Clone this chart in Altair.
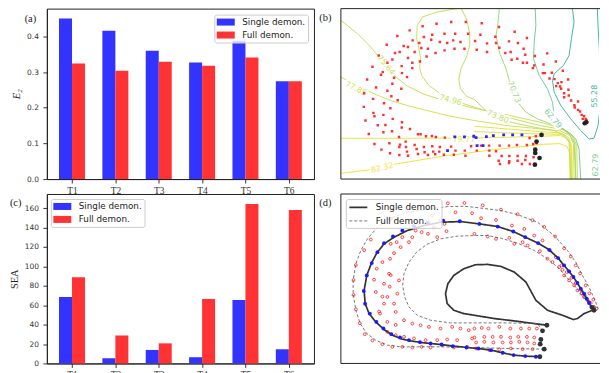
import altair as alt
import pandas as pd

# ---------------- bar panels (a) and (c) ----------------
tasks = ["T1", "T2", "T3", "T4", "T5", "T6"]
series = ["Single demon.", "Full demon."]
e2_single = [0.450, 0.416, 0.360, 0.327, 0.388, 0.274]
e2_full = [0.324, 0.304, 0.329, 0.318, 0.341, 0.274]
sea_single = [68.5, 5.4, 13.9, 6.4, 65.4, 14.6]
sea_full = [88.8, 28.8, 20.7, 66.4, 164.4, 158.0]
bar_colors = ["#3333ff", "#ff3333"]
panel_labels = ["(a)", "(b)", "(c)", "(d)"]

# ---------------- panel (b): contour levels and samples (panel units) ----------------
contour_names = ["82.32", "79.77", "81a", "81b", "77.85", "75.64", "74.96", "73.80", "70.73", "62.79", "55.28", "62.79b"]
contour_colors = ["#f2e33c", "#eae544", "#e6e444", "#dde34a", "#d6e150", "#cde05a", "#c8df5e",
                  "#bedd66", "#a6d879", "#79cc95", "#45b7a0", "#79cc95"]
contour_pts = {
    "82.32": [(2, 493), (95, 481), (160, 466), (310, 441), (470, 421), (610, 406), (660, 404), (680, 412), (688, 430), (690, 511)],
    "79.77": [(0, 388), (200, 388), (400, 387), (500, 385), (600, 382), (660, 380), (682, 388), (690, 405), (692, 511)],
    "81a": [(402, 352), (500, 360), (600, 368), (662, 372), (685, 385), (695, 410), (697, 511)],
    "81b": [(402, 368), (500, 372), (600, 375), (665, 376), (688, 395), (694, 420), (694, 511)],
    "77.85": [(0, 205), (50, 230), (100, 255), (150, 275), (200, 290), (260, 305), (320, 320), (402, 335), (500, 350), (600, 360), (660, 366), (690, 380), (700, 405), (702, 511)],
    "75.64": [(0, 35), (50, 75), (90, 115), (110, 140), (160, 200), (200, 232), (250, 256), (300, 272), (360, 288), (402, 298), (500, 318), (600, 340), (665, 358), (695, 378), (705, 405), (707, 511)],
    "74.96": [(350, 0), (290, 10), (245, 25), (230, 50), (228, 90), (235, 120), (240, 150), (237, 175), (243, 200), (265, 230), (300, 255), (350, 278), (402, 295), (500, 325), (600, 350), (668, 362), (700, 385), (710, 410), (712, 511)],
    "73.80": [(362, 0), (378, 30), (388, 75), (388, 110), (378, 145), (362, 178), (355, 210), (360, 240), (378, 262), (402, 272), (442, 310), (472, 325), (512, 340), (582, 355), (642, 365), (672, 380), (687, 400), (692, 511)],
    "70.73": [(477, 0), (472, 50), (467, 80), (477, 130), (497, 180), (507, 215), (517, 240), (532, 280), (557, 310), (592, 330), (632, 345), (662, 355), (687, 375), (702, 400), (707, 511)],
    "62.79": [(585, 0), (587, 50), (582, 100), (580, 150), (597, 200), (622, 240), (637, 280), (642, 320), (662, 355), (692, 375), (707, 390), (717, 420), (722, 511)],
    "55.28": [(697, 0), (702, 40), (694, 90), (687, 140), (670, 170), (642, 195), (637, 215), (642, 250), (662, 290), (692, 330), (722, 365), (747, 390), (762, 388), (774, 350), (780, 300), (782, 250), (780, 200), (778, 120), (774, 50), (772, 0)],
    "62.79b": [(807, 320), (794, 335), (787, 370), (787, 400), (790, 440), (797, 511)],
}
clabel_text = ["77.85", "75.64", "74.96", "73.80", "70.73", "62.79", "55.28", "82.32", "79.77", "62.79"]
clabel_x = [45, 135, 330, 472, 520, 637, 765, 125, 370, 768]
clabel_y = [240, 170, 275, 325, 250, 330, 262, 478, 392, 468]
clabel_angle = [27, 50, 15, 22, 68, 50, 270, 347, 0, 270]
clabel_color = ["#d6e150", "#cde05a", "#c8df5e", "#bedd66", "#a6d879", "#79cc95", "#45b7a0", "#f2e33c", "#eae544", "#79cc95"]

b_red = [
    (288, 45), (332, 40), (376, 40), (246, 53), (207, 65), (275, 78), (312, 75), (344, 75), (383, 75), (170, 82),
    (250, 85), (216, 95), (236, 103), (272, 93), (298, 100), (320, 103), (338, 95), (360, 100), (189, 112), (138, 108),
    (163, 133), (177, 130), (202, 115), (222, 130), (242, 118), (262, 120), (285, 133), (312, 125), (342, 120), (372, 120),
    (258, 143), (238, 158), (114, 140), (155, 152), (202, 148), (215, 162), (95, 174), (183, 172), (140, 162), (215, 178),
    (121, 198), (126, 190), (184, 193), (199, 205), (160, 207), (79, 212), (155, 225), (182, 240), (106, 236), (140, 246),
    (70, 253), (171, 274), (152, 262), (97, 270), (130, 283), (69, 294), (149, 298), (98, 312), (101, 322), (128, 318),
    (74, 335), (156, 330), (184, 340), (111, 349), (183, 356), (134, 348), (208, 360), (84, 375), (128, 370), (154, 367),
    (175, 384), (232, 376), (240, 376), (256, 382), (274, 381), (286, 384), (313, 386), (101, 405), (146, 403), (195, 398),
    (178, 407), (222, 408), (122, 422), (148, 433), (176, 414), (196, 414), (199, 428), (228, 420), (250, 414), (275, 412),
    (252, 430), (278, 428), (296, 428), (298, 414), (332, 413), (345, 425), (373, 425), (176, 438), (202, 440), (232, 435),
    (262, 438), (284, 436), (310, 437), (340, 437), (375, 440), (392, 412),
    (424, 44), (476, 55), (523, 69), (465, 84), (420, 78), (560, 88), (404, 97), (440, 104), (467, 103), (506, 98),
    (533, 103), (477, 117), (495, 133), (409, 123), (440, 130), (511, 130), (550, 120), (531, 150), (555, 138), (514, 153),
    (584, 142), (548, 162), (560, 162), (582, 170), (578, 178), (621, 134), (647, 158), (668, 186), (610, 167), (608, 193),
    (614, 193), (635, 192), (628, 209), (643, 211), (653, 223), (664, 220), (684, 212), (648, 232), (660, 233), (663, 240),
    (672, 253), (685, 243), (672, 265), (686, 260), (693, 275), (703, 289), (714, 278), (704, 296), (714, 303), (720, 308),
    (725, 318), (732, 322), (737, 330), (740, 335), (728, 330), (742, 340),
    (422, 410), (446, 410), (478, 410), (506, 410), (530, 408), (560, 408), (579, 405), (409, 425), (447, 425), (467, 427),
    (484, 441), (507, 441), (532, 441), (557, 441), (447, 440), (475, 455), (507, 457), (532, 455), (555, 453), (479, 465),
    (506, 462), (545, 465), (569, 465), (580, 445), (589, 403), (568, 387), (587, 382),
]
b_blue = [(343, 384), (372, 384), (400, 382), (321, 425), (407, 386), (438, 383), (459, 380), (490, 378), (517, 378),
          (545, 378), (410, 410), (428, 410)]
b_black = [(604, 378), (589, 398), (585, 422), (585, 432), (598, 447), (584, 467), (734, 343), (738, 340)]

# ---------------- panel (d): trajectories (panel units) ----------------
d_single_main = [
    (599, 490), (555, 488), (520, 485), (487, 478), (452, 470), (414, 465), (380, 462), (340, 458), (300, 453), (250, 448),
    (215, 443), (185, 437), (155, 425), (130, 408), (105, 385), (85, 360), (73, 330), (70, 290), (78, 245), (92, 208),
    (108, 178), (130, 150), (160, 130), (200, 110), (250, 95), (300, 85), (360, 83), (417, 90), (472, 98), (519, 113),
    (555, 130), (594, 148), (627, 168), (654, 193), (672, 215), (687, 233), (700, 250), (712, 268), (722, 285), (732, 300),
    (740, 315), (747, 328), (754, 340), (762, 350),
]
d_single_loop = [
    (620, 395), (582, 390), (522, 382), (462, 375), (402, 365), (370, 360), (340, 350), (320, 330), (315, 300), (322, 270),
    (340, 245), (370, 225), (405, 213), (442, 212), (482, 218), (522, 235), (557, 265), (587, 320), (622, 350), (667, 365),
    (700, 378), (712, 375), (732, 360), (757, 350),
]
d_full_outer = [
    (612, 467), (500, 465), (405, 462), (360, 462), (300, 460), (240, 460), (180, 460), (140, 455), (105, 440), (78, 420),
    (58, 390), (45, 350), (37, 300), (37, 260), (45, 210), (60, 170), (80, 135), (110, 100), (150, 72), (200, 55),
    (270, 45), (320, 38), (370, 37), (402, 40), (482, 50), (532, 62), (592, 85), (642, 125), (682, 170), (707, 205),
    (727, 245), (747, 280), (767, 325), (774, 345),
]
d_full_inner = [
    (607, 412), (592, 390), (502, 388), (402, 388), (330, 388), (270, 380), (230, 365), (205, 340), (192, 310), (186, 275),
    (190, 240), (205, 205), (228, 175), (258, 152), (300, 135), (350, 127), (405, 125), (442, 125), (482, 133), (532, 148),
    (582, 170), (622, 195), (652, 220), (677, 248), (702, 275), (722, 300), (742, 325), (757, 340),
]
d_blue = [
    (69, 292), (73, 330), (87, 360), (107, 385), (128, 405), (152, 422), (178, 432), (205, 440), (238, 446), (270, 450),
    (303, 453), (337, 458), (378, 462), (78, 245), (93, 208), (110, 175), (130, 148), (157, 128), (185, 110), (220, 97),
    (262, 87), (308, 80), (358, 82), (417, 90), (472, 98), (519, 113), (555, 130), (594, 148), (627, 168), (654, 193),
    (672, 215), (687, 233), (700, 250), (712, 268), (722, 285), (732, 300), (740, 315), (747, 328), (754, 340),
    (414, 465), (452, 470), (487, 478), (520, 485), (555, 488), (587, 490),
]
d_black = [(620, 395), (607, 412), (602, 438), (600, 452), (612, 467), (599, 490), (762, 350), (757, 342)]
d_red = [
    (90, 137), (70, 169), (45, 214), (38, 259), (38, 304), (45, 347), (57, 389), (72, 422), (95, 441), (125, 452),
    (372, 27), (322, 28), (427, 34), (482, 47), (532, 61), (577, 79), (612, 99), (645, 128), (672, 164), (692, 188),
    (707, 215), (720, 239), (737, 275), (748, 299), (760, 318),
    (422, 73), (467, 78), (515, 95), (552, 105), (582, 125), (607, 140), (630, 170), (647, 190), (664, 215), (680, 235),
    (694, 252), (707, 268), (724, 290), (734, 305), (742, 318), (752, 328), (762, 340), (770, 345),
    (275, 65), (300, 78), (312, 90), (243, 115), (262, 120), (280, 100), (290, 130), (318, 112), (225, 110), (215, 130),
    (205, 145), (168, 145), (180, 160), (160, 178), (148, 195), (125, 205), (108, 225), (100, 258), (105, 295), (118, 360),
    (140, 385), (140, 310), (130, 330), (165, 355), (130, 270), (145, 240), (150, 75), (345, 55), (395, 58),
    (150, 244), (147, 279), (125, 309), (115, 354), (165, 394), (170, 300), (175, 260), (160, 330), (150, 150), (185, 130),
    (402, 120), (442, 128), (467, 135), (507, 132), (522, 150), (547, 145), (562, 155), (599, 172), (622, 195), (637, 205),
    (657, 220), (667, 228), (672, 245), (687, 260), (702, 275), (712, 290), (724, 300), (732, 310), (747, 325),
    (190, 380), (215, 390), (240, 395), (265, 400), (300, 405), (335, 400), (360, 405), (385, 410), (140, 415), (165, 425),
    (190, 430), (220, 435), (255, 440), (290, 440), (320, 438), (350, 440), (395, 435), (155, 460), (185, 460), (215, 462),
    (243, 460), (270, 462), (305, 455), (340, 462), (380, 460),
    (402, 405), (424, 403), (444, 405), (477, 400), (510, 405), (542, 405), (567, 405), (590, 405),
    (402, 432), (432, 430), (457, 430), (482, 430), (510, 432), (534, 430), (560, 430), (582, 432),
    (407, 447), (432, 445), (459, 447), (487, 447), (512, 447), (537, 445), (562, 447), (582, 450),
    (407, 465), (447, 470), (477, 468), (512, 465), (547, 467), (577, 467),
]

# ---------------- layout constants ----------------
W, WB, H1, H2 = 268, 259, 171, 170
XMAX_B = 777  # panel units visible in the (narrower) right-hand panels, 3 units per pixel
SANS = "DejaVu Sans"
SERIF = "Liberation Serif"
INK = "#222222"
PATCH = "M-1.64,-0.64H1.64V0.64H-1.64Z"   # wide legend patch (about 18 x 7 px at size 121)
DASHLINE = "M-1.64,0H1.64"                 # legend line sample (about 18 px at size 121)


def panel_text(label, lx, ly):
    return alt.Chart(pd.DataFrame({"t": [label]})).mark_text(
        font=SERIF, fontSize=10.5, align="center", baseline="middle", color=INK
    ).encode(x=alt.value(lx), y=alt.value(ly), text="t:N")


def legend_box(lx, ly, symbol):
    return alt.Legend(
        title=None, orient="none", legendX=lx, legendY=ly, symbolType=symbol, symbolSize=121,
        symbolOffset=4, labelOffset=11, symbolStrokeWidth=0 if symbol == PATCH else 1,
        labelFont=SANS, labelFontSize=8.8, labelColor=INK, fillColor="rgba(255,255,255,0.8)",
        strokeColor="#cccccc", padding=2, cornerRadius=2, rowPadding=2,
    )


def bar_panel(single, full, ytitle, ymax, yticks, yfmt, label, lab_xy, leg_xy, height, tstyle):
    rows = []
    for i, t in enumerate(tasks):
        rows.append(dict(lo=i - 0.3, hi=i, series=series[0], value=single[i], base=0))
        rows.append(dict(lo=i, hi=i + 0.3, series=series[1], value=full[i], base=0))
    df = pd.DataFrame(rows)
    label_expr = "[" + ",".join("'%s'" % t for t in tasks) + "][datum.value]"
    bars = alt.Chart(df).mark_bar().encode(
        x=alt.X("lo:Q", scale=alt.Scale(domain=[-0.58, 5.58], nice=False, zero=False),
                axis=alt.Axis(values=list(range(len(tasks))), labelExpr=label_expr, title=None, grid=False,
                              labelFont=SERIF, labelFontSize=9.5, labelPadding=2)),
        x2="hi:Q",
        y=alt.Y("value:Q", scale=alt.Scale(domain=[0, ymax], nice=False),
                axis=alt.Axis(values=yticks, format=yfmt, grid=False, title=ytitle, titleFont=SERIF,
                              titleFontSize=10.5, titleFontWeight="normal", titleFontStyle=tstyle,
                              titleColor=INK, titlePadding=5, labelPadding=4.5)),
        y2="base:Q",
        color=alt.Color("series:N", scale=alt.Scale(domain=series, range=bar_colors),
                        legend=legend_box(leg_xy[0], leg_xy[1], PATCH)),
    )
    return alt.layer(bars, panel_text(label, lab_xy[0], lab_xy[1])).properties(width=W, height=height)


pa = bar_panel(e2_single, e2_full, "E\u2082", 0.478, [0, 0.1, 0.2, 0.3, 0.4], ".1f", panel_labels[0],
               (-16.5, 10), (168, 6), H1, "italic")
pc = bar_panel(sea_single, sea_full, "SEA", 174.6, list(range(0, 161, 20)), "d", panel_labels[2],
               (-31.3, 9.5), (4, 5), H2, "normal")

xs = alt.Scale(domain=[0, XMAX_B], nice=False, zero=False)
ys = alt.Scale(domain=[0, 510], nice=False, zero=False, reverse=True)


def pts_df(pts):
    return pd.DataFrame({"x": [p[0] for p in pts], "y": [p[1] for p in pts]})


def enc_xy():
    return dict(x=alt.X("x:Q", scale=xs, axis=None), y=alt.Y("y:Q", scale=ys, axis=None))


def frame(h):
    one = pd.DataFrame({"k": [0]})
    left = alt.Chart(one).mark_rule(color=INK, strokeWidth=1).encode(
        x=alt.value(0), y=alt.value(0), y2=alt.value(h))
    top = alt.Chart(one).mark_rule(color=INK, strokeWidth=1).encode(
        x=alt.value(0), x2=alt.value(WB + 1), y=alt.value(0))
    bottom = alt.Chart(one).mark_rule(color=INK, strokeWidth=1).encode(
        x=alt.value(0), x2=alt.value(WB + 1), y=alt.value(h))
    return [left, top, bottom]


# ---- panel (b)
crow = []
for name in contour_names:
    for i, (x, y) in enumerate(contour_pts[name]):
        crow.append(dict(c=name, i=i, x=x, y=y))
cdf = pd.DataFrame(crow)
contours = alt.Chart(cdf).mark_line(strokeWidth=1, clip=True).encode(
    **enc_xy(), detail="c:N", order=alt.Order("i:Q"),
    color=alt.Color("c:N", scale=alt.Scale(domain=contour_names, range=contour_colors), legend=None),
)
ldf = pd.DataFrame({"t": clabel_text, "x": clabel_x, "y": clabel_y, "a": clabel_angle, "col": clabel_color})
lab_halo = alt.Chart(ldf).mark_text(font=SANS, fontSize=8, stroke="white", strokeWidth=4, clip=True).encode(
    **enc_xy(), text="t:N", angle=alt.Angle("a:Q", scale=None))
lab_txt = alt.Chart(ldf).mark_text(font=SANS, fontSize=8, clip=True).encode(
    **enc_xy(), text="t:N", angle=alt.Angle("a:Q", scale=None), color=alt.Color("col:N", scale=None))
b_r = alt.Chart(pts_df(b_red)).mark_square(size=6, color="#ff1a1a", opacity=0.9, clip=True).encode(**enc_xy())
b_b = alt.Chart(pts_df(b_blue)).mark_square(size=8, color="#1a1aff", opacity=0.95, clip=True).encode(**enc_xy())
b_k = alt.Chart(pts_df(b_black)).mark_circle(size=22, color="#222222", opacity=1, clip=True).encode(**enc_xy())
pb = alt.layer(contours, lab_halo, lab_txt, b_r, b_b, b_k, *frame(H1),
               panel_text(panel_labels[1], -15.5, 9.5)).properties(
    width=WB, height=H1, view={"stroke": "transparent"})

# ---- panel (d)
lrow = []
for seg, ser, pts in [("m", series[0], d_single_main), ("l", series[0], d_single_loop),
                      ("o", series[1], d_full_outer), ("n", series[1], d_full_inner)]:
    for i, (x, y) in enumerate(pts):
        lrow.append(dict(seg=seg, series=ser, i=i, x=x, y=y))
ldf2 = pd.DataFrame(lrow)
leg_d = legend_box(5, 5, DASHLINE)
lines = alt.Chart(ldf2).mark_line(clip=True).encode(
    **enc_xy(), detail="seg:N", order=alt.Order("i:Q"),
    color=alt.Color("series:N", scale=alt.Scale(domain=series, range=["#333333", "#555555"]), legend=leg_d),
    strokeDash=alt.StrokeDash("series:N", scale=alt.Scale(domain=series, range=[[1, 0], [3, 2]]), legend=leg_d),
    strokeWidth=alt.StrokeWidth("series:N", scale=alt.Scale(domain=series, range=[1.7, 0.8]), legend=leg_d),
)
d_r = alt.Chart(pts_df(d_red)).mark_point(shape="circle", size=8, filled=False, color="#ff2020", strokeWidth=1,
                                           opacity=0.85, clip=True).encode(**enc_xy())
d_b = alt.Chart(pts_df(d_blue)).mark_circle(size=15, color="#1a1aff", opacity=1, clip=True).encode(**enc_xy())
d_k = alt.Chart(pts_df(d_black)).mark_circle(size=24, color="#333333", opacity=1, clip=True).encode(**enc_xy())
pd_ = alt.layer(d_r, lines, d_b, d_k, *frame(H2), panel_text(panel_labels[3], -15.5, 9.5)).properties(
    width=WB, height=H2, view={"stroke": "transparent"})

chart = alt.concat(pa, pb, pc, pd_, columns=2, spacing={"row": 15, "column": 27}, bounds="flush").properties(
    padding={"left": 0, "top": -1, "right": 0, "bottom": 0}, background="white"
).resolve_scale(color="independent", strokeDash="independent", strokeWidth="independent").configure_view(
    stroke=INK, strokeWidth=1
).configure_axis(
    labelFont=SANS, labelFontSize=7.5, labelColor="#333333", tickColor=INK, tickSize=4, domainColor=INK,
    tickWidth=0.9, domainWidth=1, labelPadding=2
)

chart.save("out.html", embed_options={"renderer": "svg", "actions": False})
